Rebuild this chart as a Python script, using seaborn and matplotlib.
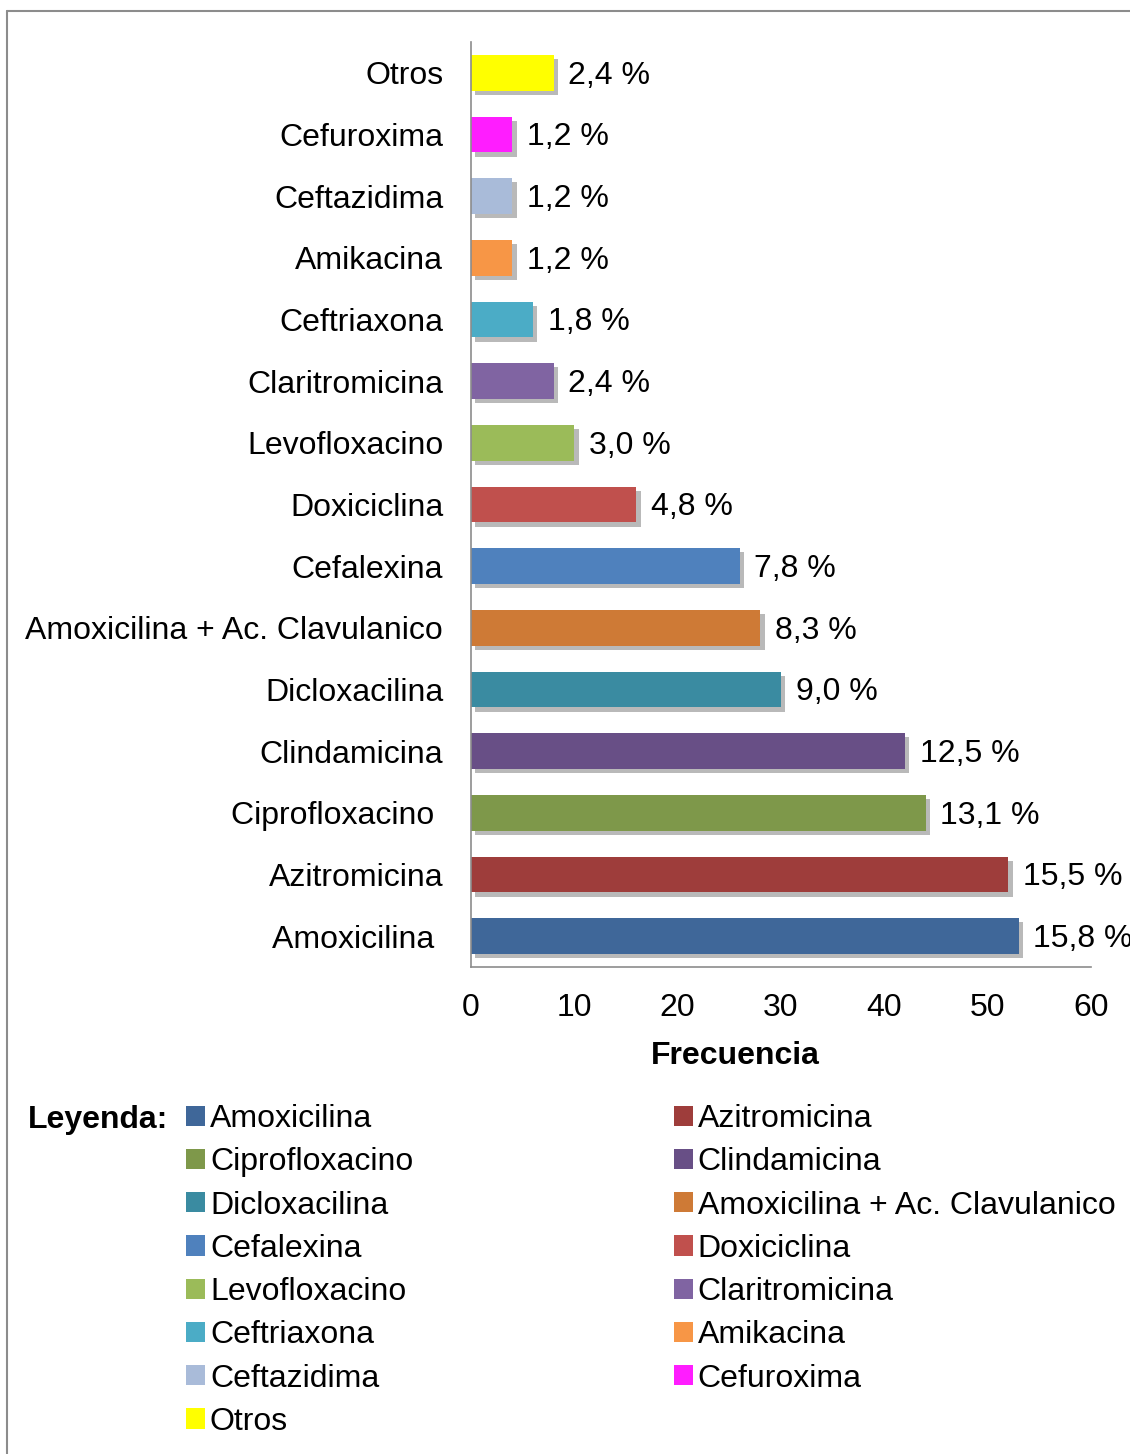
import matplotlib
matplotlib.use("Agg")
import matplotlib.pyplot as plt
import matplotlib.patheffects as pe
from matplotlib.patches import Patch
from matplotlib.lines import Line2D
import seaborn as sns
import pandas as pd

# --- data (legend order, largest first) ---
antibioticos = ["Amoxicilina ", "Azitromicina", "Ciprofloxacino ", "Clindamicina",
                "Dicloxacilina", "Amoxicilina + Ac. Clavulanico", "Cefalexina",
                "Doxiciclina", "Levofloxacino", "Claritromicina", "Ceftriaxona",
                "Amikacina", "Ceftazidima", "Cefuroxima", "Otros"]
frecuencia = [53, 52, 44, 42, 30, 28, 26, 16, 10, 8, 6, 4, 4, 4, 8]
porcentaje = ["15,8 %", "15,5 %", "13,1 %", "12,5 %", "9,0 %", "8,3 %", "7,8 %",
              "4,8 %", "3,0 %", "2,4 %", "1,8 %", "1,2 %", "1,2 %", "1,2 %", "2,4 %"]
colores = ["#3F6799", "#9E3D3B", "#7E984A", "#684F86", "#3A8BA1", "#CE7A36",
           "#4F81BD", "#C0504D", "#9BBB59", "#8064A2", "#4BACC6", "#F79646",
           "#A9BBD9", "#FF1DFF", "#FFFF00"]
x_ticks = [0, 10, 20, 30, 40, 50, 60]

sns.set_style("white")
plt.rcParams["font.family"] = ["Liberation Sans", "DejaVu Sans"]
plt.rcParams["text.color"] = "black"
plt.rcParams["axes.labelcolor"] = "black"
plt.rcParams["xtick.color"] = "black"
plt.rcParams["ytick.color"] = "black"
FS = 23

df = pd.DataFrame({"nombre": antibioticos, "freq": frecuencia})
orden = antibioticos[::-1]

fig = plt.figure(figsize=(11.3, 14.54), dpi=100)
ax = fig.add_axes([471 / 1130, 1 - 967 / 1454, 620 / 1130, 925 / 1454])

sns.barplot(data=df, x="freq", y="nombre", hue="nombre", order=orden,
            hue_order=antibioticos, palette=colores, legend=False,
            width=0.58, orient="h", saturation=1, ax=ax)

# Excel style drop shadow on the bars
for p in ax.patches:
    p.set_edgecolor("none")
    p.set_path_effects([pe.SimplePatchShadow(offset=(3, -3), shadow_rgbFace="#505050", alpha=0.4),
                        pe.Normal()])

# value labels
for i, nombre in enumerate(orden):
    j = antibioticos.index(nombre)
    ax.annotate(porcentaje[j], xy=(frecuencia[j], i), xytext=(10.5, -2),
                textcoords="offset points", va="center", ha="left", fontsize=FS)

ax.set_xlim(0, 60)
ax.set_ylim(14.5, -0.5)
ax.set_xticks(x_ticks)
ax.tick_params(axis="both", length=0, labelsize=FS)
ax.tick_params(axis="y", pad=20)
ax.tick_params(axis="x", pad=19)
ax.set_ylabel("")
ax.set_xlabel("Frecuencia", fontsize=FS, fontweight="bold")
ax.xaxis.set_label_coords(0.426, -0.080)

for s in ["top", "right"]:
    ax.spines[s].set_visible(False)
for s in ["left", "bottom"]:
    ax.spines[s].set_color("#8C8C8C")
    ax.spines[s].set_linewidth(1.2)

# legend, row-major in two columns
handles = [Patch(facecolor=c, edgecolor="none") for c in colores]
labels = [n.strip() for n in antibioticos]
h2 = handles[0::2] + handles[1::2]
l2 = labels[0::2] + labels[1::2]
fig.legend(h2, l2, loc="upper left", bbox_to_anchor=(186 / 1130, 1 - 1104 / 1454),
           ncol=2, frameon=False, fontsize=FS, handlelength=0.6, handleheight=0.6,
           handletextpad=0.15, columnspacing=8.15, labelspacing=0.415,
           borderpad=0, borderaxespad=0)
fig.text(28 / 1130, 1 - 1120 / 1454, "Leyenda:", fontsize=FS, fontweight="bold",
         va="center", ha="left")

# figure border (left and top edges)
fig.add_artist(Line2D([7 / 1130, 7 / 1130], [0, 1 - 11 / 1454], color="#8C8C8C", lw=1.5))
fig.add_artist(Line2D([7 / 1130, 1], [1 - 11 / 1454, 1 - 11 / 1454], color="#8C8C8C", lw=1.5))

fig.savefig("out.png", dpi=100)
